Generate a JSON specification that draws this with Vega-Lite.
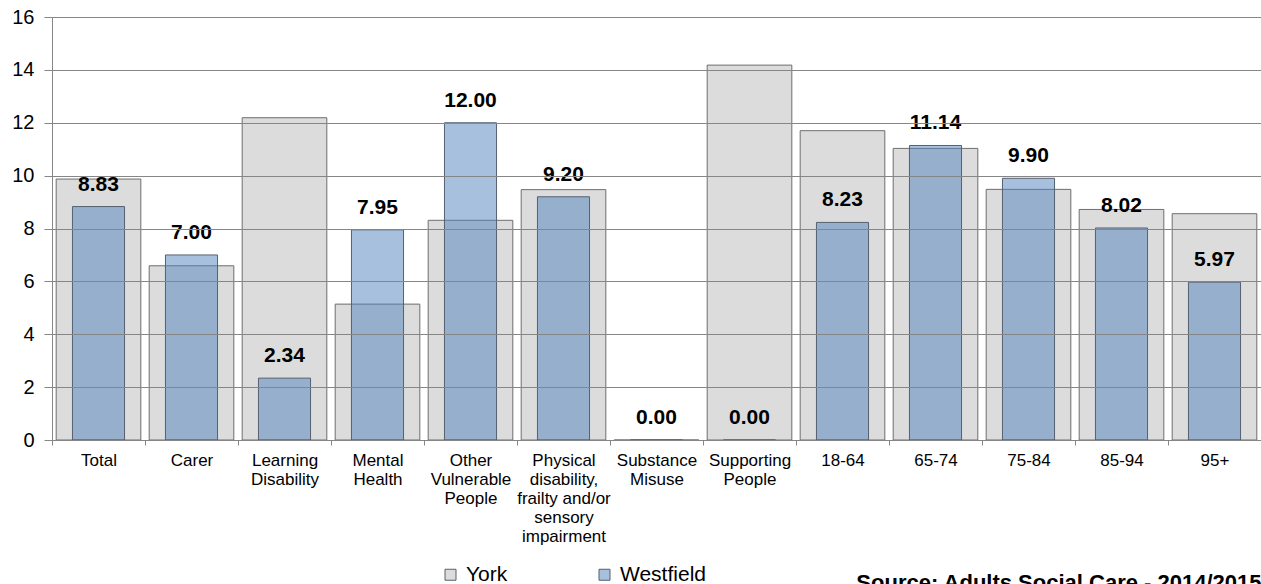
{
  "$schema": "https://vega.github.io/schema/vega-lite/v6.json",
  "width": 1209,
  "height": 423,
  "autosize": {"type": "none"},
  "padding": {"left": 52, "top": 17, "right": 0, "bottom": 144},
  "background": "white",
  "config": {"view": {"stroke": null}, "font": "Liberation Sans"},
  "title": {
    "text": "Source: Adults Social Care - 2014/2015",
    "orient": "bottom",
    "anchor": "end",
    "fontSize": 22,
    "fontWeight": "bold",
    "font": "Liberation Sans",
    "color": "#000000",
    "offset": -12
  },
  "data": {
    "values": [
      {"category": "Total", "area": "York", "value": 9.87},
      {"category": "Total", "area": "Westfield", "value": 8.83},
      {"category": "Carer", "area": "York", "value": 6.59},
      {"category": "Carer", "area": "Westfield", "value": 7.00},
      {"category": "Learning\nDisability", "area": "York", "value": 12.19},
      {"category": "Learning\nDisability", "area": "Westfield", "value": 2.34},
      {"category": "Mental\nHealth", "area": "York", "value": 5.14},
      {"category": "Mental\nHealth", "area": "Westfield", "value": 7.95},
      {"category": "Other\nVulnerable\nPeople", "area": "York", "value": 8.31},
      {"category": "Other\nVulnerable\nPeople", "area": "Westfield", "value": 12.00},
      {"category": "Physical\ndisability,\nfrailty and/or\nsensory\nimpairment", "area": "York", "value": 9.47},
      {"category": "Physical\ndisability,\nfrailty and/or\nsensory\nimpairment", "area": "Westfield", "value": 9.20},
      {"category": "Substance\nMisuse", "area": "York", "value": 0},
      {"category": "Substance\nMisuse", "area": "Westfield", "value": 0},
      {"category": "Supporting\nPeople", "area": "York", "value": 14.18},
      {"category": "Supporting\nPeople", "area": "Westfield", "value": 0},
      {"category": "18-64", "area": "York", "value": 11.70},
      {"category": "18-64", "area": "Westfield", "value": 8.23},
      {"category": "65-74", "area": "York", "value": 11.03},
      {"category": "65-74", "area": "Westfield", "value": 11.14},
      {"category": "75-84", "area": "York", "value": 9.48},
      {"category": "75-84", "area": "Westfield", "value": 9.90},
      {"category": "85-94", "area": "York", "value": 8.72},
      {"category": "85-94", "area": "Westfield", "value": 8.02},
      {"category": "95+", "area": "York", "value": 8.56},
      {"category": "95+", "area": "Westfield", "value": 5.97}
    ]
  },
  "encoding": {
    "x": {
      "field": "category",
      "type": "nominal",
      "sort": null,
      "scale": {"paddingInner": 0, "paddingOuter": 0},
      "axis": {
        "title": null,
        "labelAngle": 0,
        "tickBand": "extent",
        "tickSize": 5,
        "tickColor": "#868686",
        "domainColor": "#868686",
        "labelFontSize": 17,
        "labelLineHeight": 19,
        "labelColor": "#000000",
        "labelPadding": 7,
        "labelBaseline": "top",
        "labelLimit": 0,
        "labelOverlap": false,
        "labelExpr": "split(datum.label, '\\n')",
        "grid": false
      }
    },
    "y": {
      "field": "value",
      "type": "quantitative",
      "scale": {"domain": [0, 16], "nice": false},
      "axis": {
        "title": null,
        "values": [0, 2, 4, 6, 8, 10, 12, 14, 16],
        "grid": true,
        "gridColor": "#868686",
        "domainColor": "#868686",
        "tickColor": "#868686",
        "tickSize": 8,
        "labelFontSize": 20,
        "labelPadding": 10,
        "labelColor": "#000000",
        "zindex": 1
      }
    }
  },
  "layer": [
    {
      "transform": [{"filter": "datum.area == 'York'"}],
      "mark": {"type": "bar", "width": {"band": 0.91}, "stroke": "#6e6e6e", "strokeWidth": 1},
      "encoding": {
        "color": {
          "field": "area",
          "type": "nominal",
          "scale": {"domain": ["York", "Westfield"], "range": ["#dcdcdc", "rgba(79,129,189,0.5)"]},
          "legend": {
            "orient": "none",
            "legendX": 388,
            "legendY": 547,
            "padding": 0,
            "direction": "horizontal",
            "title": null,
            "symbolType": "square",
            "symbolSize": 121,
            "symbolStrokeColor": "#6e6e6e",
            "symbolStrokeWidth": 1,
            "labelFontSize": 21,
            "labelColor": "#000000",
            "labelOffset": 5,
            "columnPadding": 86
          }
        }
      }
    },
    {
      "transform": [{"filter": "datum.area == 'Westfield'"}],
      "mark": {"type": "bar", "width": {"band": 0.56}, "stroke": "#556070", "strokeWidth": 1},
      "encoding": {
        "color": {"field": "area", "type": "nominal"}
      }
    },
    {
      "transform": [{"filter": "datum.area == 'Westfield'"}],
      "mark": {"type": "text", "fontSize": 21, "fontWeight": "bold", "baseline": "middle", "dy": -22, "color": "#000000"},
      "encoding": {
        "text": {"field": "value", "type": "quantitative", "format": ".2f"}
      }
    }
  ]
}
